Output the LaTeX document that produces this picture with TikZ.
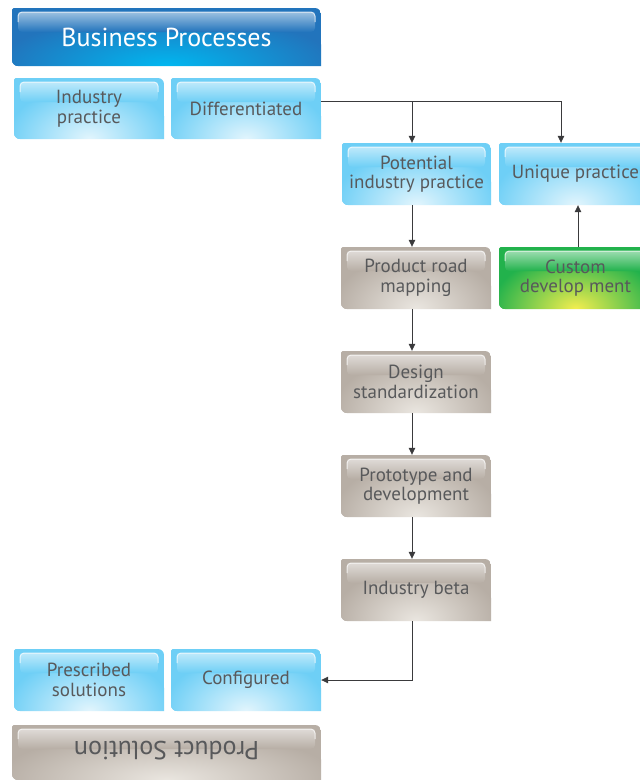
\documentclass[tikz,border=0pt]{standalone}
\usepackage{fontspec}
\setmainfont{PT Sans}
\usetikzlibrary{arrows.meta}
\definecolor{lblue}{HTML}{6ECFF6}
\definecolor{lglow}{HTML}{E2F5FD}
\definecolor{dblue}{HTML}{2274BC}
\definecolor{dglow}{HTML}{00B7F0}
\definecolor{taupe}{HTML}{B7AEA5}
\definecolor{tglow}{HTML}{EAE6E0}
\definecolor{grn}{HTML}{22B24C}
\definecolor{gglow}{HTML}{F4EE4E}
\definecolor{txt}{HTML}{58595B}
\definecolor{lnk}{HTML}{3A3A3C}
\tikzset{
  boxtext/.style={text=txt, align=center, font=\fontsize{19}{19.5}\selectfont, inner sep=0pt},
  link/.style={draw=lnk, line width=0.8pt, -{Triangle[length=7pt,width=6.5pt]}},
  plainlink/.style={draw=lnk, line width=0.8pt}
}
% #1 name, #2 x1, #3 y1, #4 x2, #5 y2, #6 base, #7 glow, #8 text options, #9 text
\newcommand{\gbox}[9]{%
  \begin{scope}
    \clip (#2,#3) [rounded corners=6pt] -- (#4,#3) [sharp corners] -- (#4,#5) [rounded corners=6pt] -- (#2,#5) [rounded corners=1.5pt] -- cycle;
    \fill[#6] (#2,#3) rectangle (#4,#5);
    \shade[inner color=#7, outer color=#6] ({(#2+#4)/2},#5) ellipse ({(#4-#2)*0.55} and {(#5-#3)*0.9});
    \shade[top color=#6!45!white, bottom color=#6, rounded corners=4pt] ({#2+6},{#3+4}) rectangle ({#4-6},{#3+24});
    \draw[white, opacity=0.75, line width=1pt, rounded corners=4pt] ({#2+6},{#3+14}) -- ({#2+6},{#3+4}) -- ({#4-6},{#3+4}) -- ({#4-6},{#3+14});
  \end{scope}
  \node[boxtext, minimum width={(#4-#2)*1pt}, minimum height={(#5-#3)*1pt}, #8] (#1) at ({(#2+#4)/2},{(#3+#5)/2}) {#9};
}
\begin{document}
\begin{tikzpicture}[x=1pt,y=-1pt]
\clip (0,0) rectangle (640,780);
\fill[white] (0,0) rectangle (640,780);

\gbox{bp}{12}{8}{321}{66}{dblue}{dglow}{text=white, font=\fontsize{26}{28}\selectfont}{Business Processes}
\gbox{ip}{14}{78}{164}{139}{lblue}{lglow}{}{Industry\\practice}
\gbox{diff}{171}{78}{321}{139}{lblue}{lglow}{}{Differentiated}
\gbox{pip}{342}{143}{491}{205}{lblue}{lglow}{}{Potential\\industry practice}
\gbox{up}{499}{143}{652}{205}{lblue}{lglow}{}{Unique practice}
\gbox{prm}{341}{247}{491}{309}{taupe}{tglow}{}{Product road\\mapping}
\gbox{cd}{499}{247}{652}{309}{grn}{gglow}{}{Custom\\develop ment}
\gbox{ds}{341}{351}{491}{413}{taupe}{tglow}{}{Design\\standardization}
\gbox{pd}{341}{455}{491}{517}{taupe}{tglow}{}{Prototype and\\development}
\gbox{ib}{341}{559}{491}{621}{taupe}{tglow}{}{Industry beta}
\gbox{ps}{14}{649}{164}{711}{lblue}{lglow}{}{Prescribed\\solutions}
\gbox{cf}{171}{649}{321}{711}{lblue}{lglow}{}{Configured}
\gbox{sol}{12}{725}{321}{780}{taupe}{tglow}{rotate=180, yshift=-2pt, font=\fontsize{26}{28}\selectfont}{Product Solution}

\coordinate (j1) at (412,101);
\coordinate (j2) at (561,101);
\coordinate (j4) at (578,101);
\coordinate (j3) at (j1 |- cf.east);
\draw[plainlink] (diff.east |- j1) -- (j2);
\draw[link] (j1) -- (j1 |- pip.north);
\draw[link] (j2) -- (j2 |- up.north);
\draw[link] (j1 |- pip.south) -- (j1 |- prm.north);
\draw[link] (j4 |- cd.north) -- (j4 |- up.south);
\draw[link] (j1 |- prm.south) -- (j1 |- ds.north);
\draw[link] (j1 |- ds.south) -- (j1 |- pd.north);
\draw[link] (j1 |- pd.south) -- (j1 |- ib.north);
\draw[link] (j1 |- ib.south) -- (j3) -- (cf.east);
\end{tikzpicture}
\end{document}
